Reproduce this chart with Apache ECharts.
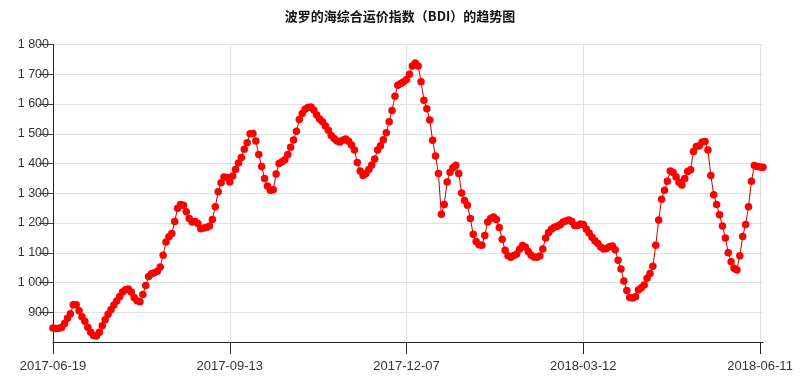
<!DOCTYPE html>
<html>
<head>
<meta charset="utf-8">
<script src="https://cdn.jsdelivr.net/npm/echarts@6/dist/echarts.min.js"></script>
<style>html,body{margin:0;padding:0;background:#fff}#c{width:800px;height:380px}</style>
</head>
<body>
<div id="c"></div>
<script>
const titleText = '波罗的海综合运价指数（BDI）的趋势图';
const startDate = '2017-06-19';
const endDate = '2018-06-12';
const holidays = ['2017-08-28','2017-12-25','2017-12-26','2017-12-27','2017-12-28','2017-12-29','2018-01-01','2018-03-30','2018-04-02','2018-05-07','2018-05-28'];
const tickDates = ['2017-06-19','2017-09-13','2017-12-07','2018-03-12','2018-06-11'];
const yTicks = [900,1000,1100,1200,1300,1400,1500,1600,1700,1800];
const bdiValues = [
  847,845,846,850,862,880,895,925,925,905,
  885,870,850,833,822,820,833,855,875,893,
  908,924,938,953,968,976,978,968,950,939,
  935,960,990,1020,1029,1033,1038,1052,1092,1136,
  1154,1165,1205,1250,1262,1260,1238,1215,1203,1205,
  1198,1181,1183,1185,1190,1212,1255,1305,1335,1355,
  1353,1338,1358,1380,1402,1420,1448,1470,1500,1501,
  1476,1430,1390,1350,1324,1310,1312,1365,1400,1406,
  1413,1430,1455,1479,1508,1548,1568,1582,1588,1590,
  1580,1563,1550,1540,1526,1512,1494,1484,1476,1472,
  1478,1482,1475,1462,1445,1403,1375,1360,1366,1380,
  1395,1415,1445,1460,1480,1503,1540,1578,1626,1663,
  1669,1675,1682,1700,1728,1738,1728,1675,1613,1584,
  1546,1478,1425,1366,1229,1262,1338,1371,1386,1394,
  1366,1301,1276,1260,1215,1162,1138,1127,1125,1158,
  1203,1215,1220,1212,1185,1145,1108,1090,1085,1091,
  1096,1112,1124,1119,1104,1092,1086,1085,1089,1113,
  1150,1168,1179,1186,1189,1194,1203,1207,1210,1205,
  1192,1192,1197,1195,1180,1166,1152,1140,1131,1119,
  1113,1114,1120,1123,1110,1075,1045,1005,973,950,
  948,952,975,982,992,1014,1030,1055,1125,1210,
  1280,1310,1340,1375,1370,1355,1337,1328,1350,1373,
  1379,1440,1457,1460,1472,1474,1445,1360,1295,1262,
  1228,1190,1150,1100,1070,1048,1042,1090,1155,1195,
  1255,1340,1393,1390,1388,1387
];

// build business-day categories
const dates = [];
(function(){
  const d = new Date(startDate + 'T00:00:00Z');
  const end = new Date(endDate + 'T00:00:00Z');
  while (d <= end) {
    const wd = d.getUTCDay();
    const s = d.toISOString().slice(0,10);
    if (wd !== 0 && wd !== 6 && holidays.indexOf(s) < 0) dates.push(s);
    d.setUTCDate(d.getUTCDate() + 1);
  }
})();

const isTick = (i, v) => tickDates.indexOf(v !== undefined ? v : dates[i]) >= 0;
const fmtNum = v => String(v).replace(/\B(?=(\d{3})+(?!\d))/g, ' ');

const chart = echarts.init(document.getElementById('c'), null, {renderer: 'canvas'});
chart.setOption({
  animation: false,
  backgroundColor: '#fff',
  title: {
    text: titleText, left: 'center', top: 5,
    textStyle: {fontFamily: 'Noto Sans CJK SC', fontSize: 13, fontWeight: 'bold', color: '#111'}
  },
  grid: {left: 53, right: 37, top: 44.5, bottom: 38},
  xAxis: {
    type: 'category', data: dates, boundaryGap: false,
    axisLine: {lineStyle: {color: '#222', width: 1}},
    axisTick: {show: true, interval: (i, v) => isTick(i, v), length: 12, lineStyle: {color: '#222'}},
    axisLabel: {interval: (i, v) => isTick(i, v), margin: 18, fontSize: 13, color: '#333', fontFamily: 'Liberation Sans'},
    splitLine: {show: true, interval: (i, v) => isTick(i, v), lineStyle: {color: '#e0e0e0'}}
  },
  yAxis: {
    type: 'value', min: 800, max: 1800, interval: 100,
    axisLine: {show: true, lineStyle: {color: '#222', width: 1}},
    axisTick: {show: true, length: 14, customValues: yTicks, lineStyle: {color: '#444'}},
    axisLabel: {customValues: yTicks, formatter: v => fmtNum(v), margin: 4, fontSize: 12.5, color: '#333', fontFamily: 'Liberation Sans'},
    splitLine: {show: true, lineStyle: {color: '#e0e0e0'}}
  },
  series: [{
    type: 'line', data: bdiValues,
    symbol: 'circle', symbolSize: 7.5, showAllSymbol: true,
    lineStyle: {color: '#c80000', width: 1},
    itemStyle: {color: '#ff0000'},
    clip: false
  }]
});
</script>
</body>
</html>
